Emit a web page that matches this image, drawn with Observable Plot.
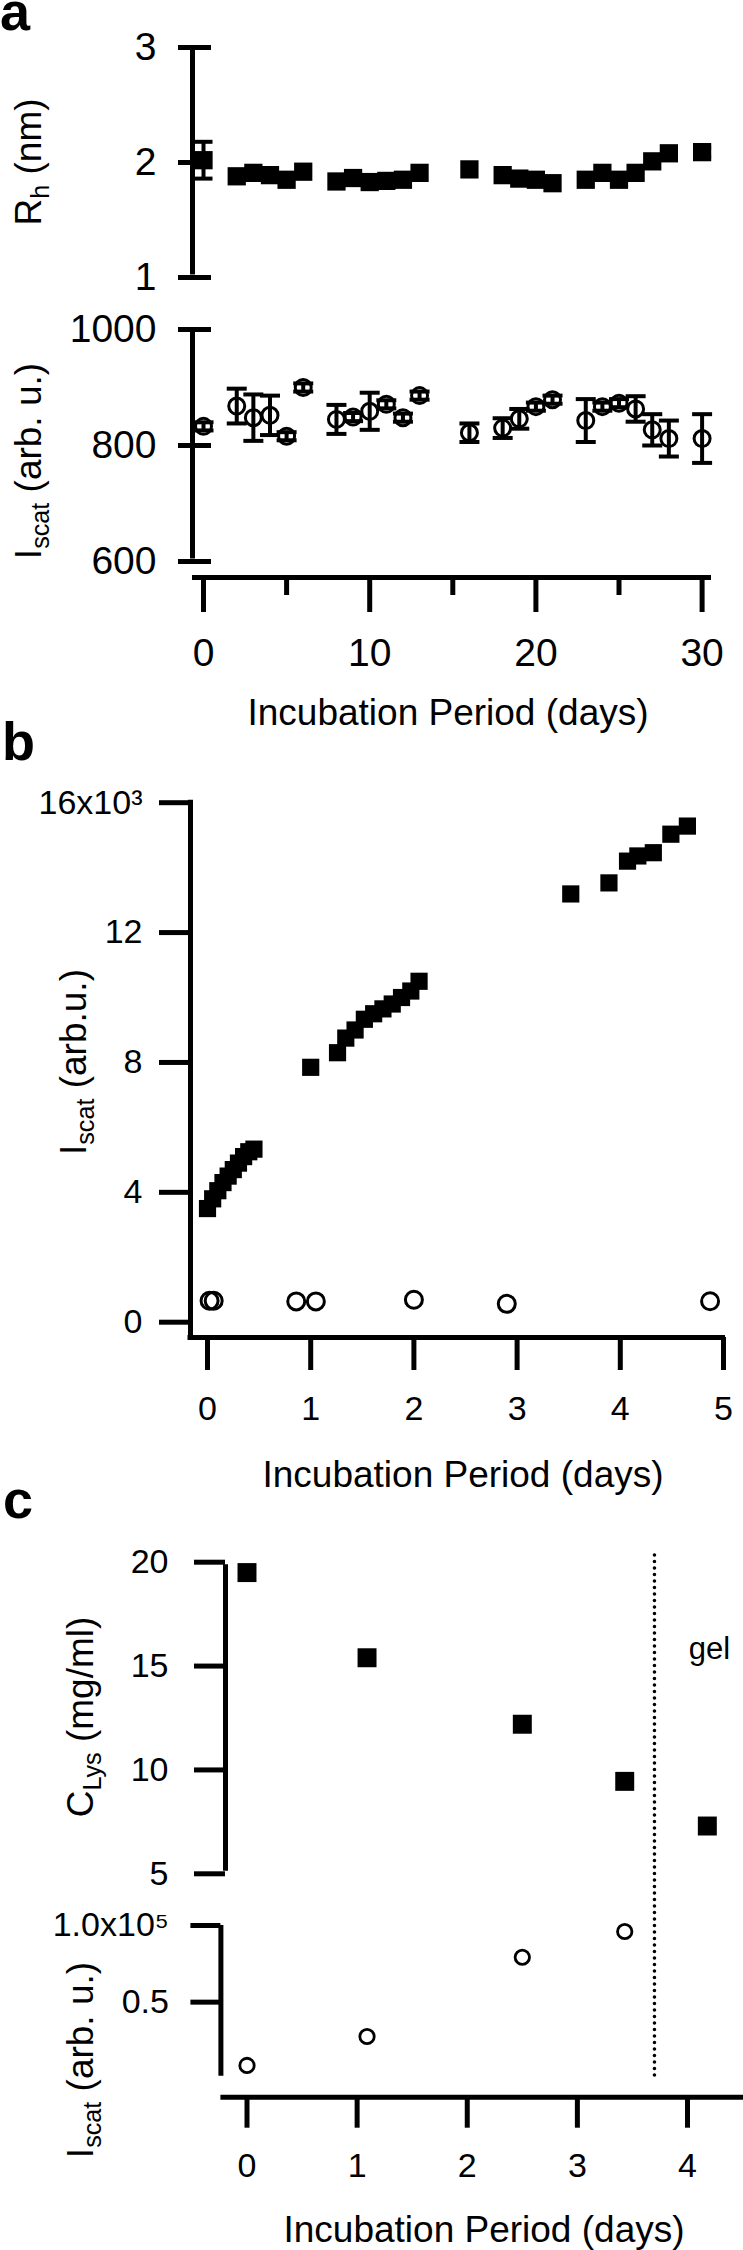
<!DOCTYPE html>
<html><head><meta charset="utf-8">
<script src="https://cdn.jsdelivr.net/npm/d3@7"></script>
<script src="https://cdn.jsdelivr.net/npm/@observablehq/plot@0.6"></script>
<style>
body{margin:0;background:#fff;}
#fig{position:relative;width:743px;height:2250px;overflow:hidden;font-family:"Liberation Sans",Arial,Helvetica,sans-serif;color:#000;background:#fff;}
#fig svg{position:absolute;left:0;}
.lbl{position:absolute;white-space:nowrap;line-height:1;}
.panel{font-weight:bold;font-size:54px;}
.title{font-size:37px;}
.htitle{transform:translateX(-50%);}
.rot{transform:translate(-50%,-50%) rotate(-90deg);}
sub{font-size:0.68em;position:relative;top:0.3em;vertical-align:baseline;line-height:0;}
</style></head><body><div id="fig"></div>
<script>
// ---------- data ----------
const daysA = [0,2,3,4,5,6,8,9,10,11,12,13,16,18,19,20,21,23,24,25,26,27,28,30];
const rhA = [2.02,1.88,1.91,1.89,1.85,1.92,1.835,1.865,1.83,1.84,1.85,1.91,1.94,1.89,1.86,1.85,1.82,1.85,1.91,1.85,1.91,2.01,2.08,2.09];
const rhErrA = [0.16,0,0,0,0,0,0,0,0,0,0,0,0,0,0,0,0,0,0,0,0,0,0,0.04];
const iscatA = [833,868,848,852,816,900,845,849,859,871,848,886,822,830,846,867,879,843,867,873,863,827,812,812];
const iscatErrA = [7,30,40,34,7,7,25,7,32,7,7,7,16,17,17,7,7,37,7,7,22,27,31,42];

const daysB = [0,0.05,0.1,0.15,0.2,0.25,0.3,0.35,0.4,0.45,1.0,1.26,1.34,1.43,1.52,1.61,1.70,1.79,1.88,1.97,2.05,3.52,3.89,4.07,4.17,4.32,4.49,4.65];
const iscatB = [3500,3800,4050,4300,4500,4700,4900,5100,5250,5330,7850,8300,8750,9000,9330,9500,9650,9800,10000,10200,10500,13190,13530,14200,14360,14460,15030,15280];
const daysB0 = [0.02,0.06,0.86,1.05,2.0,2.9,4.87];
const iscatB0 = [660,660,640,640,690,566,646];

const daysC = [0,1.09,2.5,3.43,4.18];
const clysC = [19.5,15.4,12.2,9.45,7.3];
const daysC2 = [0,1.09,2.5,3.43];
const iscatC = [8700,27600,79300,96100];
const gelDay = 3.7;
const gelLabel = [{day:4.2, v:15.8, text:"gel"}];

const ticksRh = [1,2,3];
const ticksIa = [600,800,1000];
const ticksXa = [0,10,20,30];
const minorXa = [5,15,25];
const ticksIb = [0,4000,8000,12000,16000];
const labelsIb = ["0","4","8","12","16x10³"];
const ticksXb = [0,1,2,3,4,5];
const ticksCl = [5,10,15,20];
const ticksIc = [50000,100000];
const labelsIc = ["0.5","1.0x10⁵"];
const ticksXc = [0,1,2,3,4];

const xTitle = "Incubation Period (days)";

// ---------- helpers ----------
const fig = document.getElementById("fig");
const style = {fontFamily:"'Liberation Sans', Arial, sans-serif", background:"none", overflow:"visible", color:"black"};
const cap = {draw(ctx, size){ const w = Math.sqrt(size/Math.PI); ctx.moveTo(-w,0); ctx.lineTo(w,0); }};
const plain = d => String(d);
function place(svg, top){ svg.style.position="absolute"; svg.style.top=top+"px"; svg.style.left="0px"; fig.appendChild(svg); }
function label(html, cls, css){ const d=document.createElement("div"); d.className="lbl "+cls; d.innerHTML=html; Object.assign(d.style, css); fig.appendChild(d); }

const rhData = daysA.map((d,i)=>({day:d, v:rhA[i], e:rhErrA[i]}));
const rhErr = rhData.filter(d=>d.e>0);
const iaData = daysA.map((d,i)=>({day:d, v:iscatA[i], e:iscatErrA[i]}));
const bSq = daysB.map((d,i)=>({day:d, v:iscatB[i]}));
const bCi = daysB0.map((d,i)=>({day:d, v:iscatB0[i]}));
const cSq = daysC.map((d,i)=>({day:d, v:clysC[i]}));
const cCi = daysC2.map((d,i)=>({day:d, v:iscatC[i]}));

// ---------- panel a, R_h ----------
place(Plot.plot({
  width:743, height:300, marginLeft:192, marginRight:32, marginTop:47, marginBottom:23, style,
  x:{domain:[0,30], range:[203,701.6], axis:null, label:null},
  y:{domain:[1,3], label:null},
  marks:[
    Plot.ruleX([0], {y1:1, y2:3, dx:-11, strokeWidth:5, insetTop:-2.5, insetBottom:-2.5}),
    Plot.ruleY(ticksRh, {insetLeft:-14, insetRight:500, strokeWidth:5}),
    Plot.axisY({ticks:ticksRh, tickSize:0, tickPadding:36, fontSize:39, label:null, tickFormat:plain}),
    Plot.ruleX(rhErr, {x:"day", y1:d=>d.v-d.e, y2:d=>d.v+d.e, strokeWidth:4}),
    Plot.dot(rhErr, {x:"day", y:d=>d.v-d.e, symbol:cap, r:9, fill:"none", stroke:"black", strokeWidth:4}),
    Plot.dot(rhErr, {x:"day", y:d=>d.v+d.e, symbol:cap, r:9, fill:"none", stroke:"black", strokeWidth:4}),
    Plot.dot(rhData, {x:"day", y:"v", symbol:"square", r:10.3, fill:"black", stroke:"none"})
  ]
}), 0);

// ---------- panel a, I_scat ----------
place(Plot.plot({
  width:743, height:450, marginLeft:192, marginRight:32, marginTop:39, marginBottom:163, style,
  x:{domain:[0,30], range:[203,701.6], label:null},
  y:{domain:[600,1000], range:[271,39], label:null},
  marks:[
    Plot.ruleX([0], {y1:600, y2:1000, dx:-11, strokeWidth:5, insetTop:-2.5, insetBottom:-2.5}),
    Plot.ruleY(ticksIa, {insetLeft:-14, insetRight:500, strokeWidth:5}),
    Plot.axisY({ticks:ticksIa, tickSize:0, tickPadding:36, fontSize:39, label:null, tickFormat:plain}),
    Plot.ruleY([600], {dy:16, strokeWidth:5}),
    Plot.axisX({ticks:ticksXa, tickSize:35, tickPadding:26, fontSize:39, strokeWidth:5, label:null, tickFormat:plain}),
    Plot.axisX({ticks:minorXa, tickSize:18, tickFormat:()=>"", strokeWidth:5, label:null}),
    Plot.ruleX(iaData, {x:"day", y1:d=>d.v-d.e, y2:d=>d.v+d.e, strokeWidth:4}),
    Plot.dot(iaData, {x:"day", y:d=>d.v-d.e, symbol:cap, r:10, fill:"none", stroke:"black", strokeWidth:4}),
    Plot.dot(iaData, {x:"day", y:d=>d.v+d.e, symbol:cap, r:10, fill:"none", stroke:"black", strokeWidth:4}),
    Plot.dot(iaData, {x:"day", y:"v", r:8, fill:"none", stroke:"black", strokeWidth:3})
  ]
}), 290);

// ---------- panel b ----------
place(Plot.plot({
  width:743, height:700, marginLeft:190, marginRight:18, marginTop:42, marginBottom:123, style,
  x:{domain:[0,5], range:[207,723], label:null},
  y:{domain:[0,16000], range:[561.7,42.2], label:null},
  marks:[
    Plot.ruleX([0], {y1:16000, y2:0, dx:-17, strokeWidth:5, insetTop:-2.5, insetBottom:-15.3}),
    Plot.ruleY([0], {dy:15.3, strokeWidth:5, insetLeft:-2.5}),
    Plot.axisY({ticks:ticksIb, tickSize:31, tickPadding:17, fontSize:34, strokeWidth:5, label:null, tickFormat:d=>labelsIb[ticksIb.indexOf(d)]}),
    Plot.axisX({ticks:ticksXb, tickSize:33, tickPadding:25, fontSize:34, strokeWidth:5, label:null, tickFormat:plain}),
    Plot.dot(bCi, {x:"day", y:"v", r:8.5, fill:"none", stroke:"black", strokeWidth:3}),
    Plot.dot(bSq, {x:"day", y:"v", symbol:"square", r:9.7, fill:"black", stroke:"none"})
  ]
}), 760);

// ---------- panel c, C_Lys ----------
place(Plot.plot({
  width:743, height:600, marginLeft:225, marginRight:0, marginTop:55, marginBottom:20, style,
  x:{domain:[0,4], range:[246.5,687], axis:null, label:null},
  y:{domain:[5,20], range:[373.3,61.7], label:null},
  marks:[
    Plot.ruleX([0], {y1:5, y2:20, dx:-21.5, strokeWidth:5, insetTop:-2.5, insetBottom:-2.5}),
    Plot.axisY({ticks:ticksCl, tickSize:31, tickPadding:26, fontSize:34, strokeWidth:5, label:null, tickFormat:plain}),
    Plot.ruleX([gelDay], {strokeWidth:3.6, strokeDasharray:"0 6.5", strokeLinecap:"round"}),
    Plot.text(gelLabel, {x:"day", y:"v", text:"text", fontSize:31, textAnchor:"middle"}),
    Plot.dot(cSq, {x:"day", y:"v", symbol:"square", r:10.7, fill:"black", stroke:"none"})
  ]
}), 1500);

// ---------- panel c, I_scat ----------
place(Plot.plot({
  width:743, height:350, marginLeft:220.4, marginRight:0, marginTop:25, marginBottom:153.3, style,
  x:{domain:[0,4], range:[246.5,687], label:null},
  y:{domain:[0,100000], range:[178.3,25], label:null},
  marks:[
    Plot.ruleX([0], {y1:0, y2:100000, dx:-26.1, strokeWidth:5, insetTop:-2.5}),
    Plot.axisY({ticks:ticksIc, tickSize:30, tickPadding:22, fontSize:34, strokeWidth:5, label:null, tickFormat:d=>labelsIc[ticksIc.indexOf(d)]}),
    Plot.ruleY([0], {dy:18.4, strokeWidth:5}),
    Plot.axisX({ticks:ticksXc, tickSize:31, tickPadding:25, fontSize:34, strokeWidth:5, label:null, tickFormat:plain}),
    Plot.dot(cCi, {x:"day", y:"v", r:7.2, fill:"none", stroke:"black", strokeWidth:2.8})
  ]
}), 1900);

// ---------- text labels ----------
label("a", "panel", {left:"0px", top:(30-45.7)+"px"});
label("b", "panel", {left:"2px", top:(760-45.7)+"px"});
label("c", "panel", {left:"3px", top:(1518-45.7)+"px"});

label(xTitle, "title htitle", {left:"448px", top:(725-31.3)+"px"});
label(xTitle, "title htitle", {left:"463px", top:(1487-31.3)+"px"});
label(xTitle, "title htitle", {left:"484px", top:(2242-31.3)+"px"});

label("R<sub>h</sub> (nm)", "title rot", {left:"28px", top:"162px"});
label("I<sub>scat</sub> (arb. u.)", "title rot", {left:"28px", top:"461px"});
label("I<sub>scat</sub> (arb.u.)", "title rot", {left:"73px", top:"1062px"});
label("C<sub>Lys</sub> (mg/ml)", "title rot", {left:"80px", top:"1717px"});
label("I<sub>scat</sub> (arb. u.)", "title rot", {left:"80px", top:"2060px"});
</script>
</body></html>
